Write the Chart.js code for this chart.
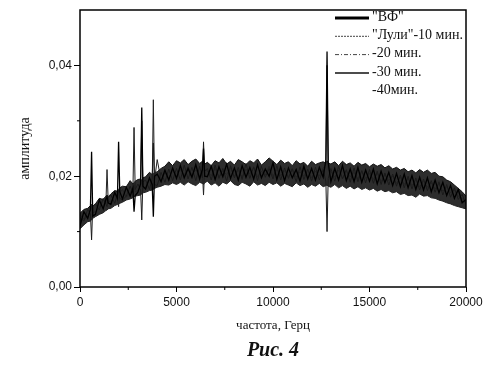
<!DOCTYPE html>
<html>
<head>
<meta charset="utf-8">
<script src="https://cdn.jsdelivr.net/npm/chart.js@4.4.1/dist/chart.umd.min.js"></script>
<style>
  html, body { margin: 0; padding: 0; background: #fff; }
  #wrap { width: 500px; height: 378px; }
</style>
</head>
<body>
<div id="wrap"><canvas id="specChart" width="500" height="378"></canvas></div>
<script>
// frequency grid, Hz (denser around the peaks)
const freq = [0,200,400,540,600,660,800,1000,1200,1340,1400,1460,1600,1800,1940,2000,2060,2200,2400,2600,
  2740,2800,2860,3000,3140,3200,3260,3400,3600,3740,3800,3860,
  4000,4200,4400,4600,4800,5000,5200,5400,5600,5800,6000,6200,6340,6400,6460,6600,6800,7000,7200,7400,7600,7800,
  8000,8200,8400,8600,8800,9000,9200,9400,9600,9800,10000,10200,10400,10600,10800,11000,11200,11400,11600,11800,
  12000,12200,12400,12600,12740,12800,12860,13000,13200,13400,13600,13800,14000,14200,14400,14600,14800,
  15000,15200,15400,15600,15800,16000,16200,16400,16600,16800,17000,17200,17400,17600,17800,
  18000,18200,18400,18600,18800,19000,19200,19400,19600,19800,20000];

// amplitudes
const vf = [.0110,.0136,.0124,.0140,.0244,.0128,.0131,.0157,.0141,.0158,.0163,.0152,.0149,.0171,.0160,.0262,.0172,.0159,.0180,.0164,
  .0178,.0136,.0165,.0171,.0186,.0324,.0182,.0177,.0197,.0185,.0127,.0200,
  .0204,.0190,.0211,.0193,.0215,.0196,.0219,.0197,.0214,.0198,.0221,.0195,.0212,.0250,.0200,.0199,.0218,.0194,.0217,.0199,.0222,.0196,
  .0215,.0193,.0219,.0198,.0216,.0195,.0221,.0197,.0213,.0200,.0224,.0194,.0217,.0192,.0215,.0197,.0212,.0191,.0218,.0195,
  .0214,.0193,.0216,.0198,.0230,.0425,.0225,.0190,.0214,.0193,.0219,.0192,.0213,.0190,.0216,.0189,.0211,
  .0191,.0213,.0186,.0209,.0188,.0207,.0183,.0205,.0181,.0204,.0179,.0201,.0176,.0198,.0175,
  .0197,.0172,.0193,.0170,.0189,.0165,.0183,.0160,.0176,.0152,.0158];

const luli10 = [.0125,.0119,.0140,.0132,.0085,.0146,.0150,.0139,.0160,.0150,.0145,.0161,.0166,.0151,.0168,.0174,.0160,.0157,.0164,.0182,
  .0170,.0288,.0176,.0186,.0175,.0121,.0190,.0193,.0176,.0196,.0260,.0185,
  .0183,.0207,.0189,.0213,.0192,.0214,.0193,.0220,.0195,.0216,.0192,.0218,.0197,.0262,.0209,.0214,.0193,.0220,.0196,.0214,.0191,.0219,
  .0197,.0216,.0194,.0223,.0196,.0217,.0192,.0218,.0198,.0214,.0195,.0219,.0193,.0215,.0196,.0213,.0190,.0217,.0194,.0212,
  .0191,.0216,.0193,.0212,.0190,.0100,.0196,.0214,.0191,.0218,.0195,.0212,.0189,.0215,.0190,.0210,.0188,
  .0212,.0187,.0209,.0185,.0206,.0184,.0204,.0182,.0202,.0179,.0200,.0177,.0197,.0175,.0195,
  .0174,.0192,.0171,.0190,.0166,.0185,.0162,.0179,.0158,.0167,.0149];

const min20 = [.0131,.0122,.0127,.0139,.0146,.0134,.0136,.0143,.0158,.0150,.0212,.0156,.0153,.0168,.0157,.0145,.0170,.0176,.0162,.0170,
  .0181,.0185,.0172,.0174,.0180,.0300,.0176,.0181,.0194,.0183,.0338,.0192,
  .0230,.0193,.0206,.0196,.0211,.0199,.0213,.0201,.0218,.0202,.0212,.0200,.0209,.0166,.0212,.0209,.0201,.0214,.0199,.0210,.0203,.0215,
  .0200,.0211,.0198,.0213,.0204,.0216,.0199,.0209,.0202,.0218,.0200,.0212,.0201,.0210,.0199,.0214,.0198,.0208,.0200,.0213,
  .0197,.0209,.0200,.0215,.0220,.0400,.0212,.0208,.0198,.0211,.0196,.0209,.0199,.0207,.0195,.0210,.0196,
  .0205,.0194,.0206,.0190,.0203,.0192,.0200,.0187,.0198,.0185,.0196,.0183,.0193,.0181,.0191,
  .0180,.0188,.0177,.0186,.0173,.0181,.0170,.0175,.0164,.0160,.0152];

// upper edge of the band
const min30 = [.0133,.0140,.0142,.0147,.0149,.0146,.0150,.0160,.0158,.0164,.0166,.0163,.0168,.0174,.0173,.0176,.0179,.0182,.0181,.0192,
  .0186,.0188,.0191,.0194,.0195,.0192,.0197,.0199,.0207,.0203,.0205,.0206,
  .0208,.0214,.0218,.0226,.0219,.0228,.0224,.0230,.0221,.0227,.0231,.0223,.0227,.0229,.0222,.0225,.0219,.0228,.0224,.0232,.0222,.0227,
  .0220,.0230,.0226,.0221,.0228,.0224,.0231,.0220,.0226,.0233,.0227,.0221,.0229,.0223,.0226,.0219,.0228,.0222,.0225,.0218,
  .0227,.0221,.0224,.0226,.0223,.0228,.0224,.0222,.0226,.0219,.0227,.0221,.0224,.0218,.0225,.0220,.0223,
  .0217,.0222,.0218,.0221,.0215,.0219,.0213,.0216,.0211,.0214,.0208,.0211,.0206,.0212,.0207,
  .0211,.0205,.0207,.0200,.0199,.0193,.0190,.0184,.0178,.0172,.0164];

// lower edge of the band
const min40 = [.0105,.0112,.0118,.0119,.0121,.0124,.0127,.0131,.0134,.0138,.0139,.0141,.0142,.0147,.0149,.0150,.0151,.0153,.0157,.0159,
  .0161,.0163,.0164,.0165,.0166,.0168,.0170,.0171,.0174,.0175,.0176,.0178,
  .0180,.0182,.0185,.0184,.0188,.0185,.0189,.0184,.0190,.0186,.0183,.0189,.0187,.0185,.0188,.0191,.0184,.0188,.0182,.0189,.0186,.0192,
  .0185,.0183,.0189,.0186,.0182,.0190,.0184,.0187,.0183,.0189,.0185,.0188,.0182,.0187,.0184,.0181,.0188,.0183,.0186,.0180,
  .0185,.0182,.0187,.0181,.0183,.0184,.0182,.0180,.0185,.0179,.0183,.0178,.0182,.0177,.0181,.0176,.0179,
  .0175,.0178,.0173,.0176,.0172,.0174,.0170,.0172,.0167,.0169,.0165,.0166,.0162,.0168,.0164,
  .0165,.0161,.0160,.0157,.0155,.0152,.0150,.0147,.0145,.0143,.0141];

const seriesNames = ['"ВФ"', '"Лули"-10 мин.', '-20 мин.', '-30 мин.', '-40мин.'];

// axis ticks
const xTicks = [0, 5000, 10000, 15000, 20000];
const yTicks = [0, 0.02, 0.04];
const xMinor = [2500, 7500, 12500, 17500];
const yMinor = [0.01, 0.03];

const sansFont = "'Liberation Sans', Arial, sans-serif";
const serifFont = "'Liberation Serif', 'Times New Roman', serif";

function toPoints(vals) {
  return vals.map((v, i) => ({ x: freq[i], y: v }));
}

// legend, frame, minor ticks and caption
const decor = {
  id: 'decor',
  afterDraw(chart) {
    const { ctx, chartArea: a, scales: { x, y } } = chart;
    ctx.save();
    ctx.strokeStyle = '#000';
    ctx.lineWidth = 1.5;
    ctx.strokeRect(a.left, a.top, a.right - a.left, a.bottom - a.top);

    ctx.lineWidth = 1;
    xMinor.forEach(v => {
      const px = x.getPixelForValue(v);
      ctx.beginPath(); ctx.moveTo(px, a.bottom); ctx.lineTo(px, a.bottom + 3); ctx.stroke();
    });
    yMinor.forEach(v => {
      const py = y.getPixelForValue(v);
      ctx.beginPath(); ctx.moveTo(a.left, py); ctx.lineTo(a.left - 3, py); ctx.stroke();
    });

    // legend
    ctx.font = '14px ' + serifFont;
    ctx.textAlign = 'left';
    ctx.textBaseline = 'middle';
    chart.data.datasets.forEach((ds, i) => {
      const rowY = a.top + 7 + i * 18.3;
      ctx.save();
      ctx.strokeStyle = ds.legendColor;
      ctx.lineWidth = ds.legendWidth;
      ctx.setLineDash(ds.legendDash);
      ctx.beginPath();
      ctx.moveTo(a.right - 131, rowY + 1);
      ctx.lineTo(a.right - 97, rowY + 1);
      ctx.stroke();
      ctx.restore();
      ctx.fillStyle = '#111';
      ctx.fillText(ds.label, a.right - 94, rowY);
    });

    ctx.font = 'bold italic 20px ' + serifFont;
    ctx.textAlign = 'center';
    ctx.fillStyle = '#111';
    ctx.fillText('Рис. 4', (a.left + a.right) / 2, 351);
    ctx.restore();
  }
};

const ctx = document.getElementById('specChart').getContext('2d');
new Chart(ctx, {
  type: 'line',
  data: {
    datasets: [
      { label: seriesNames[0], data: toPoints(vf), borderColor: '#000', borderWidth: 1.3, fill: false,
        legendColor: '#000', legendWidth: 3, legendDash: [] },
      { label: seriesNames[1], data: toPoints(luli10), borderColor: '#1a1a1a', borderWidth: 1,
        fill: false, legendColor: '#444', legendWidth: 1, legendDash: [2, 1] },
      { label: seriesNames[2], data: toPoints(min20), borderColor: '#222', borderWidth: 1,
        fill: false, legendColor: '#444', legendWidth: 1, legendDash: [4, 2, 1, 2] },
      { label: seriesNames[3], data: toPoints(min30), borderColor: '#111', borderWidth: 1,
        fill: false, legendColor: '#111', legendWidth: 1.5, legendDash: [] },
      { label: seriesNames[4], data: toPoints(min40), borderColor: '#222', borderWidth: 1,
        fill: '-1', backgroundColor: 'rgba(22,22,22,0.9)',
        legendColor: 'rgba(0,0,0,0)', legendWidth: 1, legendDash: [] }
    ]
  },
  options: {
    responsive: false,
    animation: false,
    layout: { padding: { left: 17, right: 34, top: 10, bottom: 45 } },
    elements: { point: { radius: 0 }, line: { tension: 0 } },
    plugins: { legend: { display: false }, tooltip: { enabled: false } },
    scales: {
      x: {
        type: 'linear',
        min: 0, max: 20000,
        afterFit: s => { s.height = 46; },
        afterBuildTicks: s => { s.ticks = xTicks.map(v => ({ value: v })); },
        ticks: { color: '#111', font: { family: sansFont, size: 12 }, padding: 3, maxRotation: 0,
                 callback: v => String(v) },
        grid: { drawOnChartArea: false, tickLength: 5, color: '#000' },
        border: { display: false },
        title: { display: true, text: 'частота, Герц', color: '#111',
                 font: { family: serifFont, size: 13 }, padding: { top: 4, bottom: 0 } }
      },
      y: {
        min: 0, max: 0.05,
        afterFit: s => { s.width = 63; },
        afterBuildTicks: s => { s.ticks = yTicks.map(v => ({ value: v })); },
        ticks: { color: '#111', font: { family: sansFont, size: 12 }, padding: 2,
                 callback: v => v.toFixed(2).replace('.', ',') },
        grid: { drawOnChartArea: false, tickLength: 6, color: '#000' },
        border: { display: false },
        title: { display: true, text: 'амплитуда', color: '#111',
                 font: { family: serifFont, size: 14 }, padding: { top: 0, bottom: 0 } }
      }
    }
  },
  plugins: [decor]
});
</script>
</body>
</html>
